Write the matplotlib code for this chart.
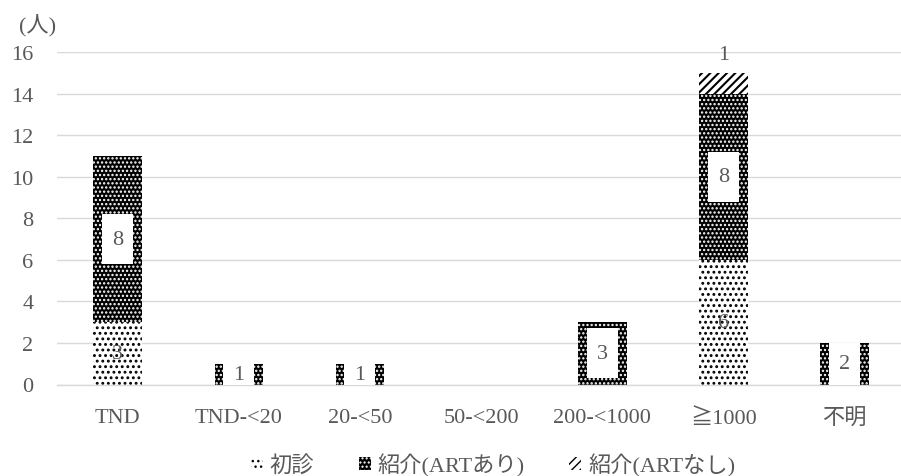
import matplotlib
matplotlib.use("Agg")
import matplotlib.pyplot as plt
from matplotlib.patches import Rectangle
import numpy as np

plt.rcParams['font.family'] = ['Liberation Serif', 'Noto Sans CJK JP', 'DejaVu Sans']

categories = ["TND", "TND-<20", "20-<50", "50-<200", "200-<1000", "≧1000", "不明"]
series_names = ["初診", "紹介(ARTあり)", "紹介(ARTなし)"]
first_visit = [3, 0, 0, 0, 0, 6, 0]
referral_art = [8, 1, 1, 0, 3, 8, 2]
referral_no_art = [0, 0, 0, 0, 0, 1, 0]
y_ticks = [0, 2, 4, 6, 8, 10, 12, 14, 16]

text_color = "#595959"
grid_color = "#d9d9d9"

fig = plt.figure(figsize=(9.01, 4.77), dpi=100)
ax = fig.add_axes([57 / 901, 1 - 385.5 / 477, 1 - 57 / 901, (385.5 - 53) / 477])

x = np.arange(len(categories))
width = 0.40

with plt.rc_context({'hatch.linewidth': 1.3}):
    b1 = ax.bar(x, first_visit, width, facecolor="white", edgecolor="black",
                hatch="...", linewidth=0, zorder=2, label=series_names[0])
with plt.rc_context({'hatch.linewidth': 1.1}):
    b2 = ax.bar(x, referral_art, width, bottom=first_visit, facecolor="black",
                edgecolor="white", hatch="....", linewidth=0, zorder=2,
                label=series_names[1])
bottom3 = np.array(first_visit) + np.array(referral_art)
with plt.rc_context({'hatch.linewidth': 1.5}):
    b3 = ax.bar(x, referral_no_art, width, bottom=bottom3, facecolor="white",
                edgecolor="black", hatch="////", linewidth=0, zorder=2,
                label=series_names[2])

fs = 16
# value labels
for i in range(len(categories)):
    v = first_visit[i]
    if v:
        ax.text(x[i], v / 2, str(v), ha="center", va="center",
                color=text_color, fontsize=fs, zorder=5)
    v = referral_art[i]
    if v:
        cy = first_visit[i] + v / 2
        bh = min(v, 2.4)
        ax.add_patch(Rectangle((x[i] - 0.128, cy - bh / 2), 0.256, bh,
                               facecolor="white", edgecolor="none", zorder=3))
        ax.text(x[i], cy, str(v), ha="center", va="center",
                color=text_color, fontsize=fs, zorder=5)
    v = referral_no_art[i]
    if v:
        ax.text(x[i], bottom3[i] + v + 0.9, str(v), ha="center", va="center",
                color=text_color, fontsize=fs, zorder=5, clip_on=False)

ax.set_xlim(-0.5, (901 - 117.5) / 121.2)
ax.set_ylim(0, 16)
ax.set_yticks(y_ticks)
ax.set_xticks(x)
ax.set_xticklabels(categories)
ax.yaxis.grid(True, color=grid_color, linewidth=1.0, zorder=0)
ax.set_axisbelow(True)
for s in ["top", "right", "left"]:
    ax.spines[s].set_visible(False)
ax.spines["bottom"].set_color(grid_color)
ax.spines["bottom"].set_linewidth(1.0)
ax.tick_params(axis="both", length=0, labelsize=fs, labelcolor=text_color)
ax.tick_params(axis="y", pad=17)
ax.tick_params(axis="x", pad=17)

fig.text(38 / 901, 1 - 26 / 477, "(人)", ha="center", va="center",
         color=text_color, fontsize=fs)

fig.legend(handles=[b1, b2, b3], labels=series_names, loc="center",
           bbox_to_anchor=(493 / 901, 1 - 466 / 477), ncol=3, frameon=False,
           fontsize=fs, labelcolor=text_color, handlelength=0.55,
           handleheight=0.55, handletextpad=0.3, columnspacing=2.0)

fig.savefig("out.png", dpi=100)
